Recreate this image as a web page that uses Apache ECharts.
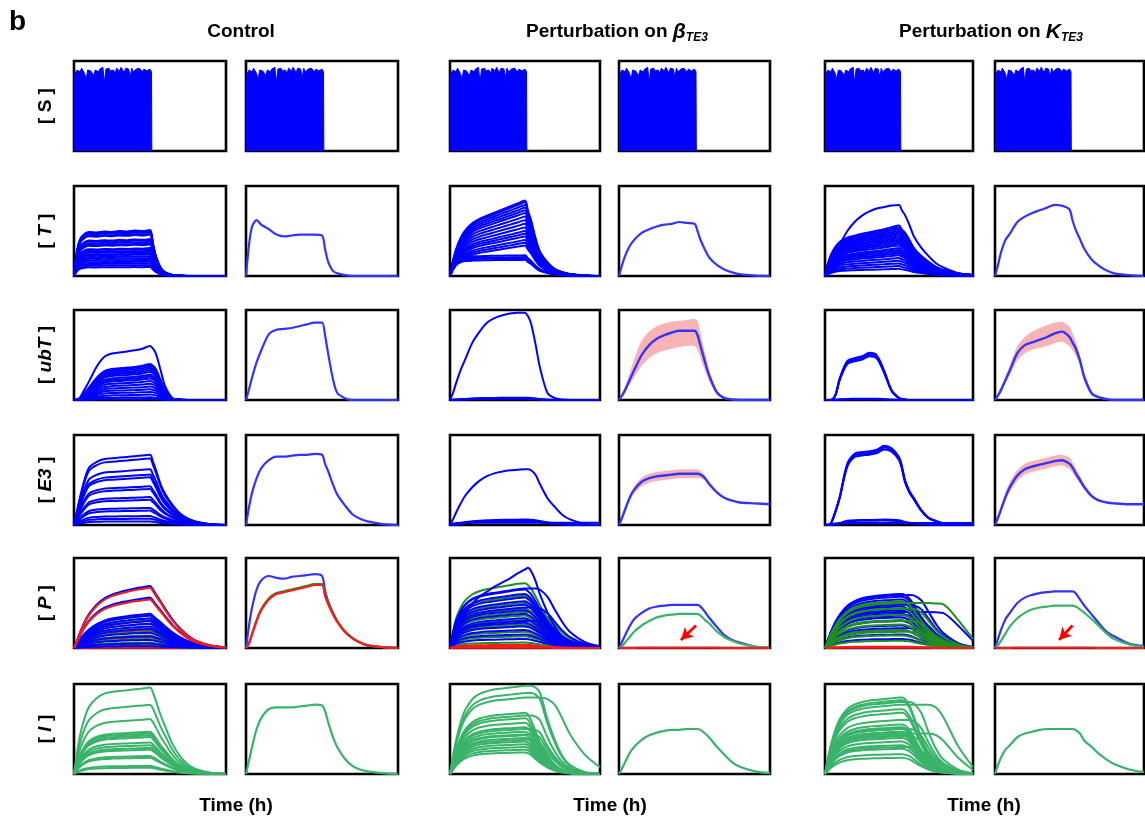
<!DOCTYPE html>
<html>
<head>
<meta charset="utf-8">
<title>Perturbation panels</title>
<script src="https://cdn.jsdelivr.net/npm/echarts@6/dist/echarts.min.js"></script>
<style>
html,body{margin:0;padding:0;background:#fff;}
#main{width:1145px;height:821px;}
</style>
</head>
<body>
<div id="main"></div>
<script>
// time grid shared by every curve (% of the simulated window)
var TIME = [0,2,4,7,10,15,20,25,30,35,40,45,50,52,54,57,60,65,70,75,80,90,100];

// [S] input: jagged top of the oscillating stimulus, on from 0 to STIM_END
var STIM_END = 51;
var S_TOP = [0.82,0.87,0.9,0.91,0.88,0.92,0.9,0.86,0.79,0.9,0.92,0.89,0.91,0.84,0.9,0.92,0.88,0.91,0.9,0.93,
             0.76,0.91,0.9,0.92,0.89,0.91,0.9,0.86,0.92,0.9,0.89,0.93,0.91,0.87,0.92,0.9,0.91,0.82,0.92,0.88,
             0.9,0.91,0.89,0.92,0.9,0.88,0.91,0.93,0.89,0.9,0.91,0.88];

// [T]
var T_CTRL_SHAPE  = [0,0.55,0.8,0.92,0.96,0.95,0.97,0.96,0.98,0.97,0.99,0.98,1,0.7,0.42,0.18,0.08,0.02,0.005,0,0,0,0];
var T_CTRL_LEVELS = [0.51,0.5,0.49,0.47,0.46,0.41,0.4,0.38,0.36,0.35,0.31,0.3,0.28,0.27,0.25,0.24,0.22,0.2,0.18,0.16,0.14,0.12,0.1];
var T_CTRL_MEAN   = [0,0.35,0.55,0.62,0.57,0.52,0.46,0.44,0.45,0.46,0.46,0.46,0.45,0.3,0.16,0.06,0.03,0.01,0,0,0,0,0];
var T_BETA_SHAPE  = [0,0.2,0.35,0.5,0.6,0.7,0.76,0.8,0.84,0.88,0.92,0.96,1,0.86,0.74,0.5,0.32,0.18,0.09,0.05,0.025,0.005,0];
var T_BETA_FLAT   = [0,0.45,0.7,0.85,0.92,0.95,0.96,0.97,0.98,0.98,0.99,0.99,1,0.86,0.74,0.5,0.32,0.18,0.09,0.05,0.025,0.005,0];
var T_BETA_LEVELS = [0.84,0.82,0.79,0.76,0.73,0.7,0.66,0.62,0.58,0.54,0.5,0.47,0.44,0.4,0.37,0.34];
var T_BETA_LOW    = [0.23,0.21,0.2,0.18];
var T_BETA_MEAN   = [0,0.12,0.22,0.33,0.4,0.48,0.52,0.55,0.57,0.58,0.6,0.59,0.58,0.5,0.4,0.29,0.2,0.12,0.07,0.04,0.02,0.005,0];
var T_K_SHAPE     = [0,0.25,0.42,0.58,0.68,0.76,0.8,0.84,0.87,0.9,0.93,0.97,1,0.92,0.86,0.72,0.56,0.4,0.28,0.18,0.12,0.05,0.02];
var T_K_LEVELS    = [0.56,0.54,0.52,0.5,0.48,0.46,0.44,0.42,0.4,0.38,0.36,0.34,0.31,0.29,0.27,0.25,0.23,0.2,0.17,0.14,0.11,0.08];
var T_K_TOP       = [0,0.06,0.16,0.32,0.44,0.63,0.76,0.85,0.91,0.95,0.97,0.99,1,0.92,0.86,0.72,0.56,0.4,0.28,0.18,0.12,0.04,0.01];
var T_K_TOP_LEVEL = [0.79];
var T_K_MEAN      = [0,0.12,0.26,0.4,0.47,0.6,0.66,0.7,0.73,0.76,0.79,0.78,0.74,0.62,0.52,0.41,0.3,0.18,0.11,0.06,0.03,0.01,0];

// [ubT]
var UBT_CTRL_SHAPE  = [0,0.01,0.05,0.2,0.35,0.62,0.8,0.86,0.88,0.9,0.92,0.95,1,0.95,0.85,0.55,0.25,0.03,0.005,0,0,0,0];
var UBT_CTRL_LEVELS = [0.6,0.4,0.39,0.37,0.35,0.33,0.31,0.28,0.26,0.24,0.21,0.18,0.15,0.12,0.09,0.06,0.03,0.01];
var UBT_CTRL_MEAN   = [0,0.12,0.25,0.42,0.55,0.73,0.78,0.79,0.8,0.82,0.84,0.86,0.86,0.72,0.52,0.25,0.08,0.02,0,0,0,0,0];
var UBT_BETA_SHAPE  = [0,0.08,0.19,0.34,0.46,0.66,0.79,0.89,0.94,0.97,0.99,1,1,0.96,0.88,0.64,0.37,0.08,0.02,0.005,0,0,0];
var UBT_BETA_LEVELS = [0.97,0.025,0.02,0.015];
var UBT_BETA_MEAN   = [0,0.05,0.11,0.22,0.33,0.5,0.61,0.68,0.72,0.75,0.77,0.77,0.77,0.72,0.6,0.42,0.26,0.08,0.02,0.005,0,0,0];
var UBT_BETA_HI     = [0,0.06,0.14,0.3,0.45,0.66,0.76,0.82,0.85,0.87,0.88,0.89,0.9,0.88,0.74,0.52,0.32,0.1,0.03,0.01,0,0,0];
var UBT_BETA_LO     = [0,0.04,0.09,0.17,0.25,0.38,0.47,0.52,0.55,0.57,0.59,0.6,0.6,0.56,0.46,0.32,0.2,0.06,0.01,0,0,0,0];
var UBT_K_SHAPE     = [0,0,0,0.1,0.45,0.8,0.86,0.9,0.97,0.92,0.6,0.2,0.04,0.02,0.01,0,0,0,0,0,0,0,0];
var UBT_K_LEVELS    = [0.54,0.52,0.5,0.015,0.01];
var UBT_K_MEAN      = [0,0.05,0.11,0.22,0.33,0.52,0.61,0.64,0.67,0.7,0.74,0.76,0.7,0.64,0.58,0.44,0.25,0.07,0.03,0.01,0,0,0];
var UBT_K_HI        = [0,0.06,0.13,0.26,0.39,0.6,0.7,0.76,0.8,0.83,0.86,0.87,0.82,0.74,0.67,0.5,0.3,0.1,0.04,0.01,0,0,0];
var UBT_K_LO        = [0,0.04,0.09,0.19,0.28,0.44,0.52,0.56,0.58,0.6,0.63,0.65,0.6,0.55,0.5,0.38,0.21,0.06,0.02,0,0,0,0];

// [E3]
var E3_CTRL_SHAPE  = [0,0.2,0.4,0.65,0.82,0.9,0.94,0.95,0.96,0.97,0.98,0.99,1,0.9,0.78,0.58,0.44,0.28,0.16,0.09,0.05,0.01,0];
var E3_CTRL_LEVELS = [0.78,0.74,0.62,0.56,0.53,0.43,0.4,0.31,0.28,0.19,0.16,0.1,0.07,0.04];
var E3_CTRL_MEAN   = [0,0.2,0.36,0.52,0.63,0.72,0.76,0.76,0.77,0.78,0.78,0.79,0.78,0.68,0.6,0.46,0.34,0.22,0.12,0.07,0.04,0.01,0];
var E3_BETA_SHAPE  = [0,0.1,0.22,0.38,0.52,0.68,0.8,0.88,0.93,0.96,0.98,0.99,1,1,0.98,0.9,0.73,0.48,0.32,0.18,0.1,0.02,0];
var E3_BETA_LEVELS = [0.62,0.06,0.05,0.045,0.04];
var E3_BETA_FLOOR  = [0,0.015,0.02,0.025,0.025,0.025,0.025,0.025,0.025,0.025,0.025,0.025,0.025,0.025,0.025,0.025,0.025,0.025,0.025,0.025,0.025,0.025,0.025];
var E3_BETA_MEAN   = [0,0.08,0.17,0.3,0.39,0.48,0.52,0.54,0.55,0.56,0.57,0.57,0.57,0.57,0.56,0.52,0.45,0.36,0.3,0.27,0.25,0.24,0.23];
var E3_BETA_HI     = [0,0.09,0.19,0.33,0.43,0.53,0.57,0.59,0.6,0.61,0.62,0.62,0.62,0.62,0.6,0.55,0.47,0.37,0.3,0.27,0.25,0.24,0.23];
var E3_BETA_LO     = [0,0.07,0.15,0.27,0.35,0.43,0.47,0.49,0.5,0.51,0.52,0.52,0.52,0.52,0.52,0.49,0.43,0.35,0.3,0.27,0.25,0.24,0.23];
var E3_K_SHAPE     = [0,0,0.02,0.17,0.36,0.77,0.9,0.92,0.93,0.95,1,0.97,0.86,0.74,0.57,0.43,0.34,0.19,0.09,0.05,0.02,0,0];
var E3_K_LEVELS    = [0.88,0.86,0.84,0.06,0.05];
var E3_K_FLOOR     = [0,0.005,0.01,0.015,0.02,0.02,0.02,0.02,0.02,0.02,0.02,0.02,0.02,0.02,0.02,0.02,0.02,0.02,0.02,0.02,0.02,0.02,0.02];
var E3_K_MEAN      = [0,0.08,0.17,0.31,0.42,0.55,0.62,0.65,0.67,0.69,0.71,0.72,0.68,0.64,0.58,0.5,0.42,0.32,0.27,0.25,0.24,0.23,0.23];
var E3_K_HI        = [0,0.09,0.2,0.36,0.48,0.61,0.68,0.71,0.73,0.75,0.77,0.78,0.75,0.7,0.64,0.55,0.45,0.34,0.28,0.25,0.24,0.23,0.23];
var E3_K_LO        = [0,0.07,0.15,0.27,0.37,0.49,0.56,0.59,0.61,0.63,0.65,0.66,0.62,0.58,0.53,0.46,0.39,0.3,0.26,0.25,0.24,0.23,0.23];

// [P]  (blue / green / red species)
var P_CTRL_SHAPE = [0,0.12,0.25,0.42,0.55,0.7,0.8,0.86,0.9,0.93,0.96,0.98,1,0.94,0.86,0.75,0.63,0.45,0.31,0.2,0.12,0.04,0.01];
var P_CTRL_BLUE  = [0.69,0.56,0.38,0.36,0.33,0.3,0.27,0.24,0.21,0.17,0.13,0.09,0.05,0.02];
var P_CTRL_GREEN = [0.68,0.55,0.36,0.31,0.27,0.22,0.18,0.14,0.1,0.06,0.03];
var P_CTRL_RED_TOP = [0.67,0.54];
var P_CTRL_RED   = [0.3,0.2,0.12,0.05,0.003];
var P_CTRL_MEAN_BLUE  = [0,0.25,0.45,0.65,0.75,0.8,0.78,0.77,0.79,0.8,0.81,0.82,0.8,0.64,0.52,0.4,0.3,0.18,0.11,0.06,0.03,0.01,0];
var P_CTRL_MEAN_GREEN = [0,0.06,0.16,0.31,0.43,0.55,0.61,0.63,0.65,0.67,0.69,0.71,0.71,0.6,0.5,0.39,0.3,0.19,0.11,0.06,0.03,0.01,0];
var P_CTRL_MEAN_RED   = [0,0.05,0.15,0.3,0.42,0.54,0.6,0.62,0.64,0.66,0.68,0.7,0.7,0.58,0.49,0.38,0.29,0.18,0.11,0.06,0.03,0.01,0];

var P_BETA_EARLY = [0,0.25,0.45,0.62,0.73,0.83,0.88,0.91,0.93,0.95,0.97,0.99,1,0.97,0.92,0.8,0.66,0.46,0.3,0.19,0.11,0.04,0.01];
var P_BETA_LATE  = [0,0.25,0.45,0.62,0.73,0.83,0.88,0.91,0.93,0.95,0.97,0.99,1,1,1,1,0.98,0.86,0.64,0.43,0.27,0.1,0.03];
var P_BETA_RISE  = [0,0.1,0.2,0.32,0.42,0.55,0.64,0.7,0.76,0.81,0.86,0.92,0.97,0.99,0.95,0.83,0.66,0.44,0.26,0.14,0.07,0.02,0];
var P_BETA_BLUE_EARLY  = [0.65,0.6,0.56,0.52,0.48,0.42,0.38,0.33,0.28,0.24,0.2,0.15,0.1];
var P_BETA_BLUE_LATE   = [0.66,0.45,0.3];
var P_BETA_BLUE_RISE   = [0.9];
var P_BETA_GREEN_EARLY = [0.72,0.58,0.5,0.44,0.36,0.31,0.26,0.18,0.13,0.06];
var P_BETA_GREEN_LATE  = [0.4,0.25];
var P_BETA_RED         = [0.035,0.02,0.004];
var P_BETA_MEAN_BLUE  = [0,0.07,0.14,0.24,0.32,0.39,0.44,0.46,0.47,0.48,0.48,0.48,0.48,0.48,0.46,0.4,0.33,0.23,0.14,0.09,0.06,0.015,0];
var P_BETA_MEAN_GREEN = [0,0.02,0.06,0.12,0.18,0.25,0.3,0.34,0.36,0.37,0.38,0.38,0.38,0.38,0.36,0.31,0.27,0.18,0.12,0.08,0.05,0.015,0];
var P_BETA_MEAN_RED   = [0,0,0,0,0,0.003,0.004,0.004,0.004,0.004,0.004,0.004,0.004,0.004,0.003,0.003,0.002,0.002,0.001,0,0,0,0];
var P_BETA_ARROW = [[51, 0.25], [41, 0.09]];

var P_K_EARLY = [0,0.15,0.3,0.48,0.62,0.78,0.87,0.92,0.95,0.97,0.98,0.99,1,1,0.98,0.92,0.8,0.58,0.38,0.23,0.13,0.04,0.01];
var P_K_MID   = [0,0.15,0.3,0.48,0.62,0.78,0.87,0.92,0.95,0.97,0.98,0.99,1,1,1,1,0.99,0.9,0.68,0.45,0.28,0.09,0.02];
var P_K_LATE  = [0,0.15,0.3,0.48,0.62,0.78,0.87,0.92,0.95,0.97,0.98,0.99,1,1,1,1,1,1,1,0.99,0.97,0.62,0.2];
var P_K_BLUE_EARLY  = [0.6,0.57,0.54,0.5,0.46,0.42,0.38,0.34,0.3,0.25,0.2,0.15,0.1];
var P_K_BLUE_MID    = [0.59,0.48,0.36,0.22];
var P_K_BLUE_LATE   = [0.4];
var P_K_GREEN_EARLY = [0.52,0.44,0.37,0.31,0.26,0.2,0.14,0.08];
var P_K_GREEN_MID   = [0.44,0.3,0.18];
var P_K_GREEN_LATE  = [0.5];
var P_K_RED         = [0.015,0.004];
var P_K_MEAN_BLUE  = [0,0.1,0.2,0.32,0.39,0.5,0.56,0.59,0.61,0.62,0.63,0.63,0.63,0.63,0.61,0.54,0.47,0.37,0.27,0.18,0.13,0.05,0.02];
var P_K_MEAN_GREEN = [0,0.03,0.08,0.16,0.24,0.33,0.39,0.43,0.45,0.46,0.47,0.47,0.47,0.47,0.46,0.43,0.39,0.32,0.24,0.16,0.1,0.04,0.01];
var P_K_MEAN_RED   = [0,0,0,0,0,0.003,0.004,0.004,0.004,0.004,0.004,0.004,0.004,0.004,0.003,0.003,0.002,0.002,0.001,0,0,0,0];
var P_K_ARROW = [[52, 0.25], [43, 0.09]];

// [I]
var I_CTRL_SHAPE  = [0,0.25,0.45,0.65,0.78,0.88,0.93,0.95,0.96,0.97,0.98,0.99,1,0.94,0.84,0.68,0.55,0.34,0.2,0.11,0.06,0.015,0];
var I_CTRL_LEVELS = [0.96,0.77,0.61,0.47,0.45,0.43,0.41,0.35,0.32,0.29,0.27,0.2,0.18,0.09,0.07];
var I_CTRL_MEAN   = [0,0.15,0.3,0.5,0.62,0.72,0.74,0.74,0.74,0.75,0.76,0.77,0.76,0.7,0.58,0.42,0.3,0.17,0.09,0.05,0.03,0.01,0];
var I_BETA_EARLY  = [0,0.2,0.38,0.58,0.72,0.85,0.91,0.94,0.96,0.97,0.98,0.99,1,0.97,0.88,0.7,0.52,0.3,0.15,0.07,0.03,0.01,0];
var I_BETA_MID    = [0,0.2,0.38,0.58,0.72,0.85,0.91,0.94,0.96,0.97,0.98,0.99,1,1,1,0.98,0.92,0.62,0.38,0.2,0.1,0.02,0];
var I_BETA_LATE   = [0,0.2,0.38,0.58,0.72,0.85,0.91,0.94,0.96,0.97,0.98,0.99,1,1,1,1,1,0.98,0.9,0.72,0.52,0.25,0.09];
var I_BETA_LV_EARLY = [0.68,0.62,0.57,0.52,0.47,0.43,0.4,0.36,0.33,0.3,0.27,0.24];
var I_BETA_LV_MID   = [0.98,0.9,0.65,0.5,0.44,0.38];
var I_BETA_LV_LATE  = [0.85];
var I_BETA_MEAN   = [0,0.06,0.13,0.23,0.3,0.38,0.43,0.46,0.48,0.49,0.49,0.5,0.5,0.5,0.49,0.45,0.4,0.3,0.21,0.13,0.08,0.03,0.01];
var I_K_EARLY = [0,0.2,0.38,0.58,0.72,0.85,0.91,0.94,0.96,0.97,0.98,0.99,1,1,0.98,0.9,0.75,0.48,0.27,0.14,0.07,0.02,0];
var I_K_MID   = [0,0.2,0.38,0.58,0.72,0.85,0.91,0.94,0.96,0.97,0.98,0.99,1,1,1,1,0.98,0.85,0.58,0.35,0.2,0.06,0.01];
var I_K_LATE  = [0,0.2,0.38,0.58,0.72,0.85,0.91,0.94,0.96,0.97,0.98,0.99,1,1,1,1,1,1,1,0.96,0.82,0.4,0.1];
var I_K_LV_EARLY = [0.85,0.82,0.72,0.68,0.55,0.52,0.5,0.47,0.45,0.43,0.4,0.36,0.32,0.28,0.22,0.18];
var I_K_LV_MID   = [0.8,0.6,0.5,0.42,0.3];
var I_K_LV_LATE  = [0.77,0.45];
var I_K_MEAN = [0,0.1,0.18,0.27,0.32,0.41,0.45,0.47,0.49,0.5,0.5,0.5,0.5,0.5,0.49,0.45,0.37,0.3,0.22,0.16,0.11,0.05,0.02];

// labels
var COLUMN_TITLES = ['Control', 'Perturbation on ', 'Perturbation on '];
var COLUMN_PARAMS = ['', '\u03b2', 'K'];
var ROW_LABELS = ['S', 'T', 'ubT', 'E3', 'P', 'I'];
var X_TITLE = 'Time (h)';

// ---- layout ----
var COL_LEFT = [74, 246, 450, 619, 825, 995];
var COL_W    = [152, 152, 150, 151, 148, 149];
var ROW_TOP  = [61, 186, 310, 435, 558, 684];
var PANEL_H  = 90;

var BLUE = '#0000ff', BLUE_M = '#3333ff';
var GREEN_D = '#1f8f1f', GREEN = '#3ab36a', RED = '#ff1a1a', PINK = '#f8b4b4';
var FONT = '"Liberation Sans", Arial, Helvetica, sans-serif';

var grids = [], xAxes = [], yAxes = [], series = [];
for (var r = 0; r < 6; r++) {
    for (var c = 0; c < 6; c++) {
        grids.push({left: COL_LEFT[c], top: ROW_TOP[r], width: COL_W[c], height: PANEL_H,
            show: true, borderColor: '#000', borderWidth: 2.6, backgroundColor: '#fff'});
        var gi = grids.length - 1;
        xAxes.push({type: 'value', gridIndex: gi, min: 0, max: 100, show: false});
        yAxes.push({type: 'value', gridIndex: gi, min: 0, max: 1, show: false});
    }
}
function g(r, c) { return r * 6 + c; }

function pts(vals) { return TIME.map(function (t, i) { return [t, vals[i]]; }); }

function line(gi, data, color, width, z) {
    return {type: 'line', xAxisIndex: gi, yAxisIndex: gi, data: data, symbol: 'none', showSymbol: false,
        smooth: 0.3, silent: true, z: z || 2, lineStyle: {color: color, width: width || 2}};
}
function ensemble(gi, shape, levels, color, z) {
    levels.forEach(function (k) {
        var d = TIME.map(function (t, i) { return [t, shape[i] * k]; });
        series.push(line(gi, d, color, 2, z));
    });
}
// pink spread band: polygon between the lo and hi curves, placed through the axes
function band(gi, lo, hi) {
    series.push({type: 'custom', xAxisIndex: gi, yAxisIndex: gi, data: [[0, 0]], silent: true, z: 1, clip: true,
        renderItem: function (params, api) {
            var p = [];
            for (var i = 0; i < TIME.length; i++) p.push(api.coord([TIME[i], hi[i]]));
            for (var j = TIME.length - 1; j >= 0; j--) p.push(api.coord([TIME[j], lo[j]]));
            return {type: 'polygon', shape: {points: p, smooth: 0.2}, style: {fill: PINK}};
        }});
}
function arrow(s, pair) {
    s.markLine = {silent: true, symbol: ['none', 'arrow'], symbolSize: [10, 12], animation: false,
        lineStyle: {color: '#ff0000', width: 2.8, type: 'solid'}, label: {show: false},
        data: [[{coord: pair[0]}, {coord: pair[1]}]]};
    return s;
}

// row 0: stimulus
for (var c0 = 0; c0 < 6; c0++) {
    var sd = S_TOP.map(function (v, i) { return [i * STIM_END / (S_TOP.length - 1), v]; });
    sd.push([STIM_END + 0.2, 0]);
    var st = line(g(0, c0), sd, BLUE, 1, 2);
    st.smooth = false;
    st.areaStyle = {color: BLUE, opacity: 1};
    series.push(st);
}

// row 1: [T]
ensemble(g(1, 0), T_CTRL_SHAPE, T_CTRL_LEVELS, BLUE);
series.push(line(g(1, 1), pts(T_CTRL_MEAN), BLUE_M, 2.2));
ensemble(g(1, 2), T_BETA_SHAPE, T_BETA_LEVELS, BLUE);
ensemble(g(1, 2), T_BETA_FLAT, T_BETA_LOW, BLUE);
series.push(line(g(1, 3), pts(T_BETA_MEAN), BLUE_M, 2.2));
ensemble(g(1, 4), T_K_SHAPE, T_K_LEVELS, BLUE);
ensemble(g(1, 4), T_K_TOP, T_K_TOP_LEVEL, BLUE);
series.push(line(g(1, 5), pts(T_K_MEAN), BLUE_M, 2.2));

// row 2: [ubT]
ensemble(g(2, 0), UBT_CTRL_SHAPE, UBT_CTRL_LEVELS, BLUE);
series.push(line(g(2, 1), pts(UBT_CTRL_MEAN), BLUE_M, 2.2));
ensemble(g(2, 2), UBT_BETA_SHAPE, UBT_BETA_LEVELS, BLUE);
band(g(2, 3), UBT_BETA_LO, UBT_BETA_HI);
series.push(line(g(2, 3), pts(UBT_BETA_MEAN), BLUE_M, 2.4, 3));
ensemble(g(2, 4), UBT_K_SHAPE, UBT_K_LEVELS, BLUE);
band(g(2, 5), UBT_K_LO, UBT_K_HI);
series.push(line(g(2, 5), pts(UBT_K_MEAN), BLUE_M, 2.4, 3));

// row 3: [E3]
ensemble(g(3, 0), E3_CTRL_SHAPE, E3_CTRL_LEVELS, BLUE);
series.push(line(g(3, 1), pts(E3_CTRL_MEAN), BLUE_M, 2.2));
ensemble(g(3, 2), E3_BETA_SHAPE, E3_BETA_LEVELS, BLUE);
series.push(line(g(3, 2), pts(E3_BETA_FLOOR), BLUE, 2.2));
band(g(3, 3), E3_BETA_LO, E3_BETA_HI);
series.push(line(g(3, 3), pts(E3_BETA_MEAN), BLUE_M, 2.4, 3));
ensemble(g(3, 4), E3_K_SHAPE, E3_K_LEVELS, BLUE);
series.push(line(g(3, 4), pts(E3_K_FLOOR), BLUE, 2.2));
band(g(3, 5), E3_K_LO, E3_K_HI);
series.push(line(g(3, 5), pts(E3_K_MEAN), BLUE_M, 2.4, 3));

// row 4: [P]
ensemble(g(4, 0), P_CTRL_SHAPE, P_CTRL_RED, RED, 2);
ensemble(g(4, 0), P_CTRL_SHAPE, P_CTRL_GREEN, GREEN_D, 3);
ensemble(g(4, 0), P_CTRL_SHAPE, P_CTRL_BLUE, BLUE, 3);
ensemble(g(4, 0), P_CTRL_SHAPE, P_CTRL_RED_TOP, RED, 4);
series.push(line(g(4, 1), pts(P_CTRL_MEAN_BLUE), BLUE_M, 2.2));
series.push(line(g(4, 1), pts(P_CTRL_MEAN_GREEN), GREEN_D, 2.2, 3));
series.push(line(g(4, 1), pts(P_CTRL_MEAN_RED), RED, 2.2, 4));

ensemble(g(4, 2), P_BETA_EARLY, P_BETA_GREEN_EARLY, GREEN_D);
ensemble(g(4, 2), P_BETA_LATE, P_BETA_GREEN_LATE, GREEN_D);
ensemble(g(4, 2), P_BETA_EARLY, P_BETA_BLUE_EARLY, BLUE, 3);
ensemble(g(4, 2), P_BETA_LATE, P_BETA_BLUE_LATE, BLUE, 3);
ensemble(g(4, 2), P_BETA_RISE, P_BETA_BLUE_RISE, BLUE, 3);
ensemble(g(4, 2), P_BETA_EARLY, P_BETA_RED, RED, 4);
series.push(line(g(4, 3), pts(P_BETA_MEAN_BLUE), BLUE_M, 2.2));
series.push(line(g(4, 3), pts(P_BETA_MEAN_GREEN), GREEN, 2.2, 3));
series.push(arrow(line(g(4, 3), pts(P_BETA_MEAN_RED), RED, 2, 4), P_BETA_ARROW));

ensemble(g(4, 4), P_K_EARLY, P_K_BLUE_EARLY, BLUE);
ensemble(g(4, 4), P_K_MID, P_K_BLUE_MID, BLUE);
ensemble(g(4, 4), P_K_LATE, P_K_BLUE_LATE, BLUE);
ensemble(g(4, 4), P_K_EARLY, P_K_GREEN_EARLY, GREEN_D, 3);
ensemble(g(4, 4), P_K_MID, P_K_GREEN_MID, GREEN_D, 3);
ensemble(g(4, 4), P_K_LATE, P_K_GREEN_LATE, GREEN_D, 3);
ensemble(g(4, 4), P_K_EARLY, P_K_RED, RED, 4);
series.push(line(g(4, 5), pts(P_K_MEAN_BLUE), BLUE_M, 2.2));
series.push(line(g(4, 5), pts(P_K_MEAN_GREEN), GREEN, 2.2, 3));
series.push(arrow(line(g(4, 5), pts(P_K_MEAN_RED), RED, 2, 4), P_K_ARROW));

// row 5: [I]
ensemble(g(5, 0), I_CTRL_SHAPE, I_CTRL_LEVELS, GREEN);
series.push(line(g(5, 1), pts(I_CTRL_MEAN), GREEN, 2.2));
ensemble(g(5, 2), I_BETA_EARLY, I_BETA_LV_EARLY, GREEN);
ensemble(g(5, 2), I_BETA_MID, I_BETA_LV_MID, GREEN);
ensemble(g(5, 2), I_BETA_LATE, I_BETA_LV_LATE, GREEN);
series.push(line(g(5, 3), pts(I_BETA_MEAN), GREEN, 2.2));
ensemble(g(5, 4), I_K_EARLY, I_K_LV_EARLY, GREEN);
ensemble(g(5, 4), I_K_MID, I_K_LV_MID, GREEN);
ensemble(g(5, 4), I_K_LATE, I_K_LV_LATE, GREEN);
series.push(line(g(5, 5), pts(I_K_MEAN), GREEN, 2.2));

// ---- text ----
var graphics = [];
graphics.push({type: 'text', x: 9, y: 8, style: {text: 'b', font: 'bold 28px ' + FONT, fill: '#000'}});
var titleX = [241, 617, 991];
for (var k = 0; k < 3; k++) {
    var txt = COLUMN_PARAMS[k] ? '{n|' + COLUMN_TITLES[k] + '}{g|' + COLUMN_PARAMS[k] + '}{s|TE3}' : '{n|' + COLUMN_TITLES[k] + '}';
    graphics.push({type: 'text', x: titleX[k], y: 32, style: {
        text: txt, align: 'center', verticalAlign: 'middle', fill: '#000',
        rich: {
            n: {fontFamily: FONT, fontWeight: 'bold', fontSize: 19, lineHeight: 24, verticalAlign: 'middle'},
            g: {fontFamily: FONT, fontWeight: 'bold', fontStyle: 'italic', fontSize: 21, lineHeight: 24, verticalAlign: 'middle'},
            s: {fontFamily: FONT, fontWeight: 'bold', fontStyle: 'italic', fontSize: 12, lineHeight: 10, verticalAlign: 'bottom'}
        }}});
    graphics.push({type: 'text', x: [236, 610, 984][k], y: 806, style: {
        text: X_TITLE, font: 'bold 19px ' + FONT, fill: '#000', align: 'center', verticalAlign: 'middle'}});
}
for (var rr = 0; rr < 6; rr++) {
    graphics.push({type: 'text', x: 46, y: ROW_TOP[rr] + 45, rotation: Math.PI / 2, style: {
        text: '{b|[ }{i|' + ROW_LABELS[rr] + '}{b| ]}', align: 'center', verticalAlign: 'middle', fill: '#000',
        rich: {
            b: {fontFamily: FONT, fontWeight: 'bold', fontSize: 19},
            i: {fontFamily: FONT, fontWeight: 'bold', fontStyle: rr === 0 ? 'normal' : 'italic', fontSize: 19}
        }}});
}

var chart = echarts.init(document.getElementById('main'), null, {renderer: 'canvas'});
chart.setOption({
    animation: false,
    backgroundColor: '#fff',
    grid: grids,
    xAxis: xAxes,
    yAxis: yAxes,
    series: series,
    graphic: graphics
});
</script>
</body>
</html>
